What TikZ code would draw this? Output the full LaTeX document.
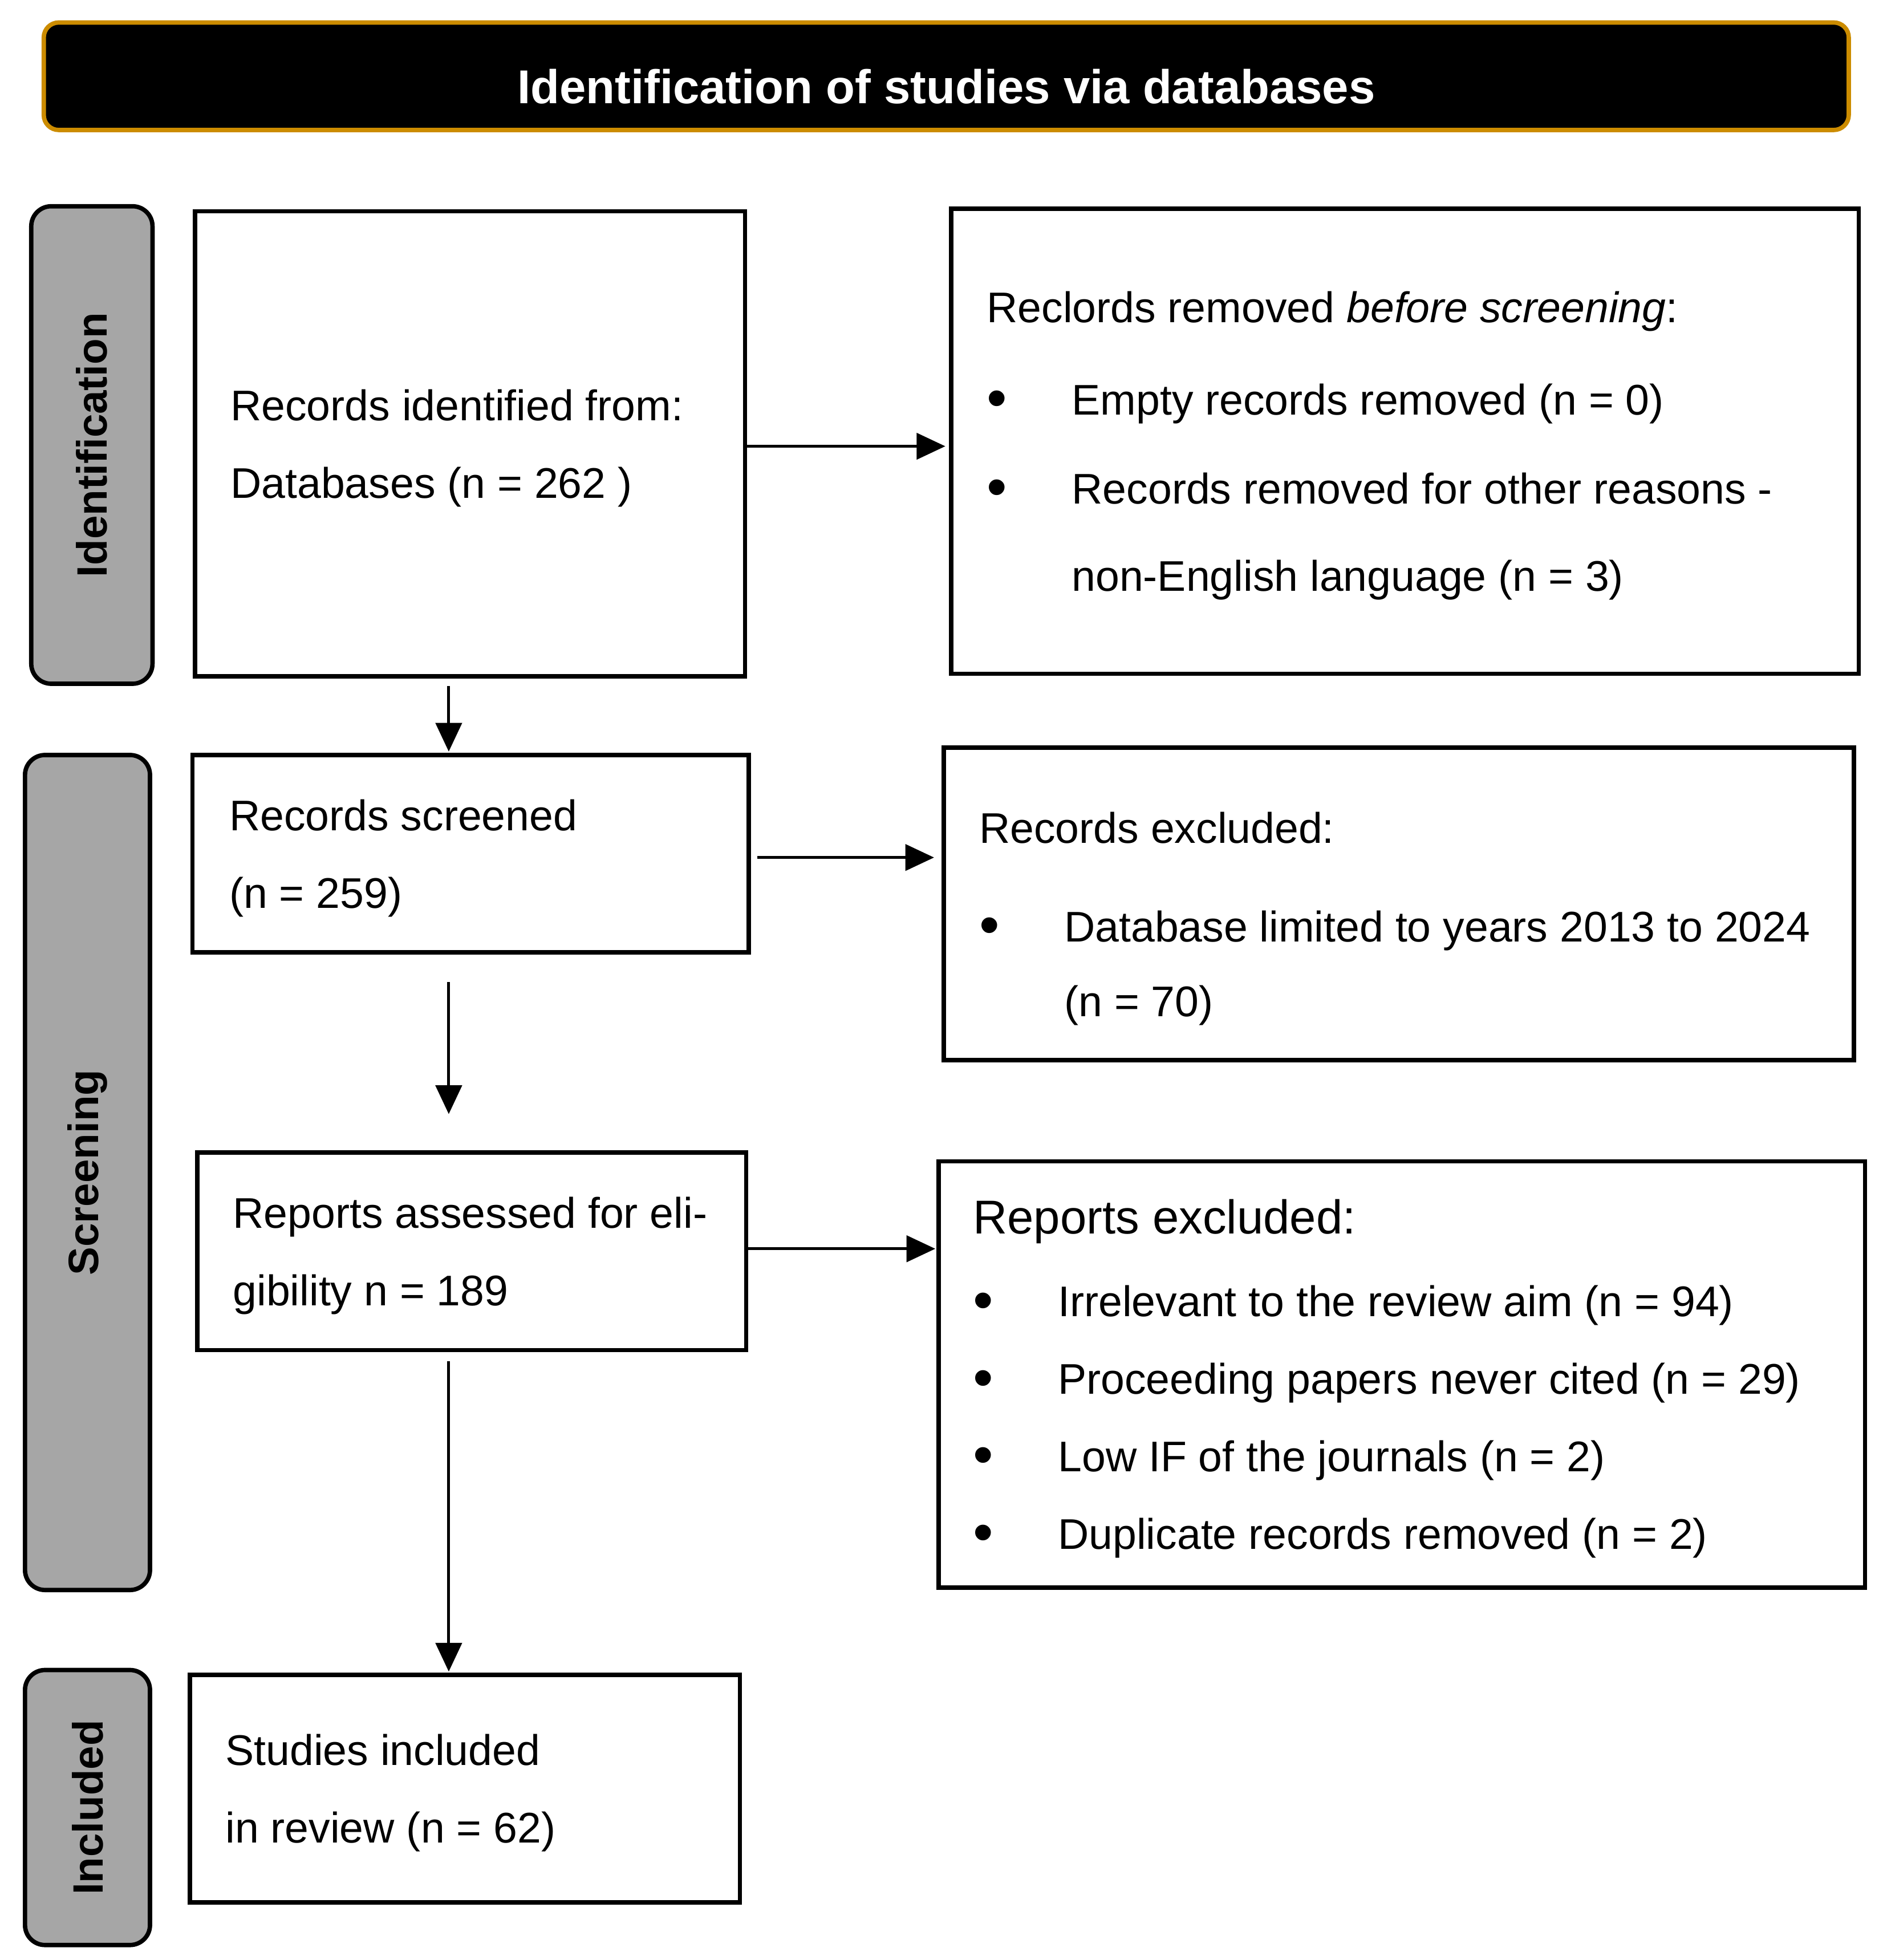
\documentclass[tikz,border=0pt]{standalone}
\usepackage{fontspec}
\setmainfont{Liberation Sans}
\usetikzlibrary{arrows.meta,calc}
\definecolor{hdrorange}{RGB}{204,140,0}
\definecolor{lblgrey}{RGB}{166,166,166}
\newcommand\pbul{\makebox[68pt][l]{\raisebox{-2.5pt}{\scalebox{1.35}{\textbullet}}}}
\begin{document}
\begin{tikzpicture}[x=1pt,y=1pt,
  box/.style={draw=black, line width=3.5pt, inner sep=0pt},
  txt/.style={align=left, inner sep=0pt, anchor=west, yshift=-3.5pt, font=\fontsize{34.3}{62}\selectfont},
  phase/.style={draw=black, line width=3.5pt, fill=lblgrey, rounded corners=16pt, rotate=90, inner sep=0pt, font=\fontsize{34}{40}\selectfont\bfseries},
  arr/.style={line width=2.3pt, -{Triangle[length=23pt,width=21pt]}},
  hdr/.style={draw=hdrorange, line width=3.5pt, fill=black, rounded corners=12pt, text=white, inner sep=0pt, font=\fontsize{38}{46}\selectfont\bfseries}
]
\useasboundingbox (0,0) rectangle (1506,-1568);
\fill[white] (0,0) rectangle (1506,-1568);

% header
\node[hdr, minimum width=1444pt, minimum height=86pt] (hdr) at (757,-61) {\raisebox{-8pt}[\height][0pt]{Identification of studies via databases}};

% phase labels
\node[phase, minimum width=382pt, minimum height=97pt] (lid) at (73.5,-356) {Identification};
\node[phase, minimum width=668pt, minimum height=100pt] (lsc) at (70,-938) {Screening};
\node[phase, minimum width=220pt, minimum height=100pt] (lin) at (70,-1446) {Included};

% main boxes
\node[box, minimum width=440pt, minimum height=372pt] (b1) at (376,-355) {};
\node[box, minimum width=726pt, minimum height=372pt] (r1) at (1124,-353) {};
\node[box, minimum width=445pt, minimum height=158pt] (b2) at (376.5,-683) {};
\node[box, minimum width=728pt, minimum height=250pt] (r2) at (1119,-723) {};
\node[box, minimum width=439pt, minimum height=158pt] (b3) at (377.5,-1001) {};
\node[box, minimum width=741pt, minimum height=341pt] (r3) at (1121.5,-1099.5) {};
\node[box, minimum width=440pt, minimum height=182pt] (b4) at (372,-1431) {};

% texts
\node[txt] (b1t) at ($(b1.west)+(30,0)$) {Records identified from:\\Databases (n = 262 )};
\node[txt] (r1t) at ($(r1.west)+(30,0)$) {Reclords removed \textit{before screening}:\\[12pt]
\pbul Empty records removed (n = 0)\\[9pt]
\pbul Records removed for other reasons -\\[8pt]
\hspace*{68pt}non-English language (n = 3)};
\node[txt] (b2t) at ($(b2.west)+(31,0)$) {Records screened\\(n = 259)};
\node[txt] (r2t) at ($(r2.west)+(30,-8.5)$) {Records excluded:\\[17pt]
\pbul Database limited to years 2013 to 2024\\[-2pt]
\hspace*{68pt}(n = 70)};
\node[txt] (b3t) at ($(b3.west)+(30,0)$) {Reports assessed for eli-\\gibility n = 189};
\node[txt] (r3t) at ($(r3.west)+(29,0)$) {{\fontsize{38}{62}\selectfont Reports excluded:}\\[4pt]
\pbul Irrelevant to the review aim (n = 94)\\
\pbul Proceeding papers never cited (n = 29)\\
\pbul Low IF of the journals (n = 2)\\
\pbul Duplicate records removed (n = 2)};
\node[txt] (b4t) at ($(b4.west)+(30,0)$) {Studies included\\in review (n = 62)};

% connectors
\coordinate (s1) at ($(b1.east)+(0,-2)$);
\draw[arr, shorten >=3pt] (s1) -- (s1 -| r1.west);
\coordinate (a1) at ($(b1.south)+(-17,-6)$);
\draw[arr, shorten >=1pt] (a1) -- (a1 |- b2.north);
\coordinate (s2) at ($(b2.east)+(5,-3)$);
\draw[arr, shorten >=6pt] (s2) -- (s2 -| r2.west);
\coordinate (a2) at ($(b2.south)+(-17.5,-22)$);
\draw[arr, shorten >=29pt] (a2) -- (a2 |- b3.north);
\coordinate (s3) at ($(b3.east)+(0,2)$);
\draw[arr, shorten >=1pt] (s3) -- (s3 -| r3.west);
\coordinate (a3) at ($(b3.south)+(-18.5,-7)$);
\draw[arr, shorten >=1pt] (a3) -- (a3 |- b4.north);
\end{tikzpicture}
\end{document}
